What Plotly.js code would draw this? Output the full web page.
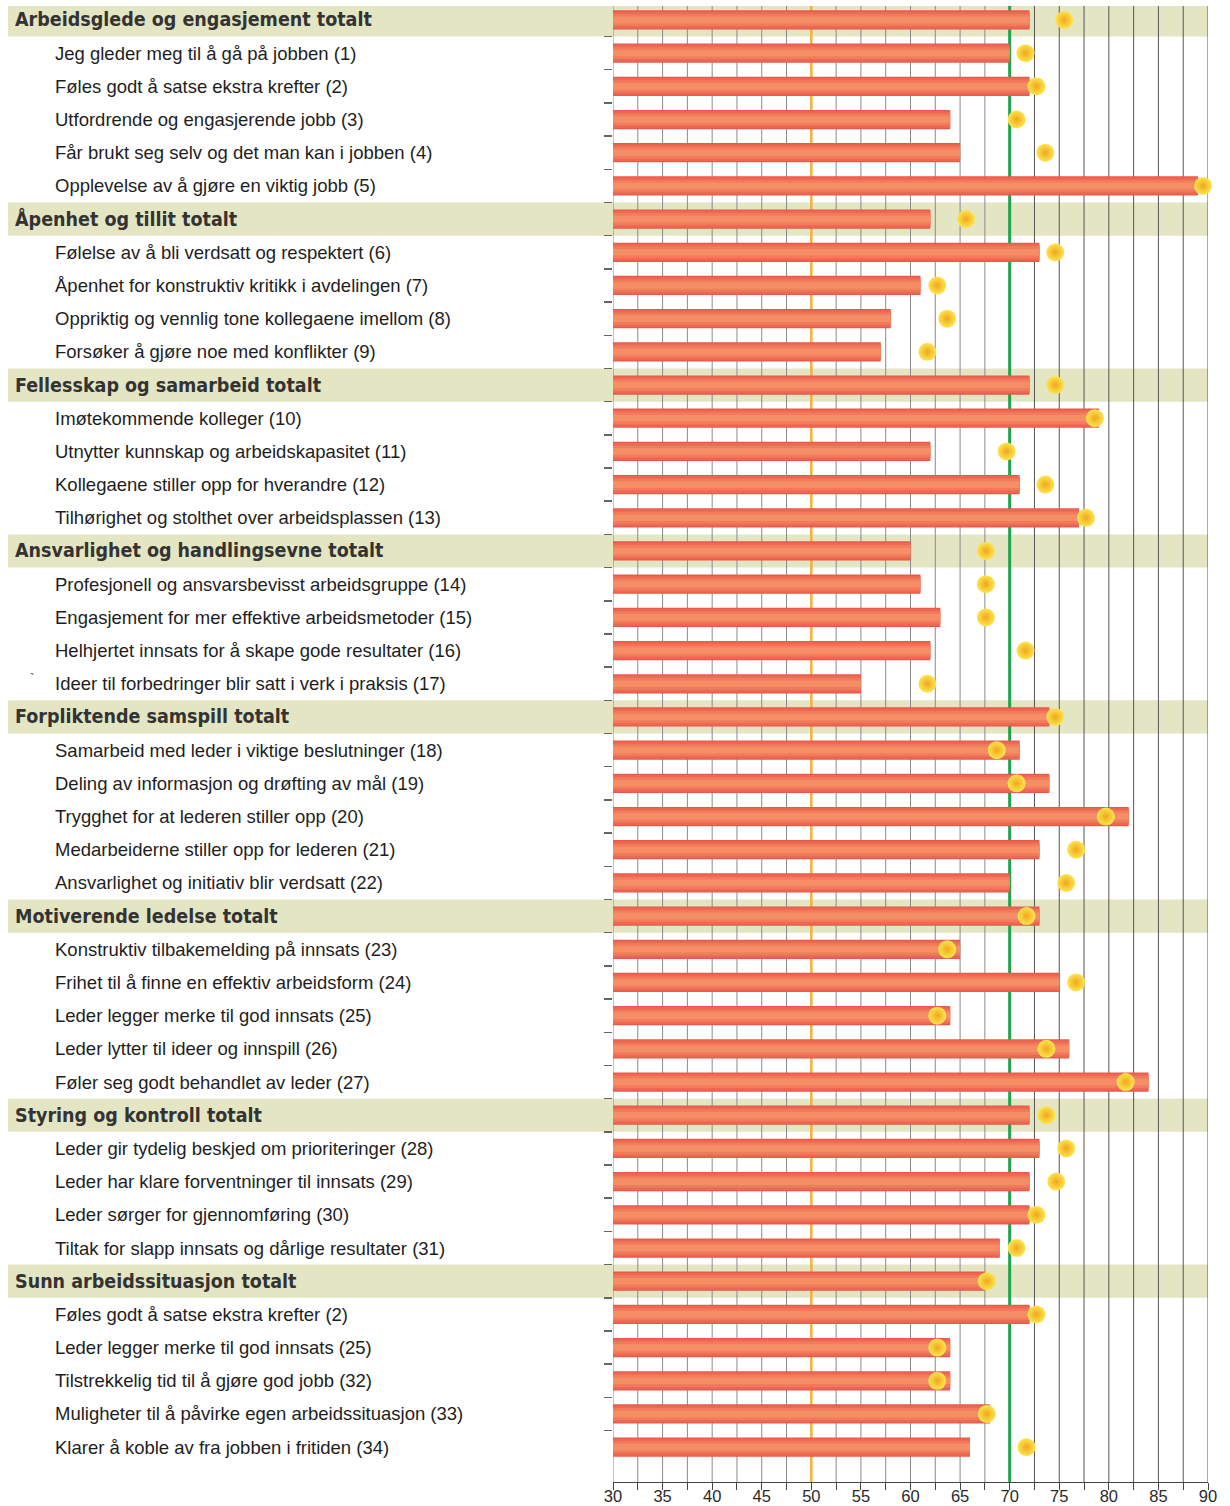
<!DOCTYPE html>
<html>
<head>
<meta charset="utf-8">
<script src="https://cdn.plot.ly/plotly-3.0.1.min.js"></script>
<style>
  html, body { margin: 0; padding: 0; background: #ffffff; }
  #chart { width: 1230px; height: 1506px; }
</style>
</head>
<body>
<div id="chart"></div>
<script>
// Survey items, top to bottom; section totals are flagged in headerRows
const rowLabels = [
  'Arbeidsglede og engasjement totalt',
  'Jeg gleder meg til å gå på jobben (1)',
  'Føles godt å satse ekstra krefter (2)',
  'Utfordrende og engasjerende jobb (3)',
  'Får brukt seg selv og det man kan i jobben (4)',
  'Opplevelse av å gjøre en viktig jobb (5)',
  'Åpenhet og tillit totalt',
  'Følelse av å bli verdsatt og respektert (6)',
  'Åpenhet for konstruktiv kritikk i avdelingen (7)',
  'Oppriktig og vennlig tone kollegaene imellom (8)',
  'Forsøker å gjøre noe med konflikter (9)',
  'Fellesskap og samarbeid totalt',
  'Imøtekommende kolleger (10)',
  'Utnytter kunnskap og arbeidskapasitet (11)',
  'Kollegaene stiller opp for hverandre (12)',
  'Tilhørighet og stolthet over arbeidsplassen (13)',
  'Ansvarlighet og handlingsevne totalt',
  'Profesjonell og ansvarsbevisst arbeidsgruppe (14)',
  'Engasjement for mer effektive arbeidsmetoder (15)',
  'Helhjertet innsats for å skape gode resultater (16)',
  'Ideer til forbedringer blir satt i verk i praksis (17)',
  'Forpliktende samspill totalt',
  'Samarbeid med leder i viktige beslutninger (18)',
  'Deling av informasjon og drøfting av mål (19)',
  'Trygghet for at lederen stiller opp (20)',
  'Medarbeiderne stiller opp for lederen (21)',
  'Ansvarlighet og initiativ blir verdsatt (22)',
  'Motiverende ledelse totalt',
  'Konstruktiv tilbakemelding på innsats (23)',
  'Frihet til å finne en effektiv arbeidsform (24)',
  'Leder legger merke til god innsats (25)',
  'Leder lytter til ideer og innspill (26)',
  'Føler seg godt behandlet av leder (27)',
  'Styring og kontroll totalt',
  'Leder gir tydelig beskjed om prioriteringer (28)',
  'Leder har klare forventninger til innsats (29)',
  'Leder sørger for gjennomføring (30)',
  'Tiltak for slapp innsats og dårlige resultater (31)',
  'Sunn arbeidssituasjon totalt',
  'Føles godt å satse ekstra krefter (2)',
  'Leder legger merke til god innsats (25)',
  'Tilstrekkelig tid til å gjøre god jobb (32)',
  'Muligheter til å påvirke egen arbeidssituasjon (33)',
  'Klarer å koble av fra jobben i fritiden (34)'
];

const headerRows = [0, 6, 11, 16, 21, 27, 33, 38];

// Department score (bars)
const scores = [
  72, 70, 72, 64, 65, 89,
  62, 73, 61, 58, 57,
  72, 79, 62, 71, 77,
  60, 61, 63, 62, 55,
  74, 71, 74, 82, 73, 70,
  73, 65, 75, 64, 76, 84,
  72, 73, 72, 72, 69,
  67.5, 72, 64, 64, 68, 66
];

// Reference score (dots)
const benchmarks = [
  75.5, 71.6, 72.7, 70.7, 73.6, 89.5,
  65.6, 74.6, 62.7, 63.7, 61.7,
  74.6, 78.6, 69.7, 73.6, 77.7,
  67.6, 67.6, 67.6, 71.6, 61.7,
  74.6, 68.7, 70.7, 79.7, 76.7, 75.7,
  71.7, 63.7, 76.7, 62.7, 73.7, 81.7,
  73.7, 75.7, 74.7, 72.7, 70.7,
  67.7, 72.7, 62.7, 62.7, 67.7, 71.7
];

const tickValues = [30, 32.5, 35, 37.5, 40, 42.5, 45, 47.5, 50, 52.5, 55, 57.5, 60,
                    62.5, 65, 67.5, 70, 72.5, 75, 77.5, 80, 82.5, 85, 87.5, 90];
const tickLabels = ['30', '', '35', '', '40', '', '45', '', '50', '', '55', '', '60',
                    '', '65', '', '70', '', '75', '', '80', '', '85', '', '90'];

const referenceLine = 50;
const targetLine = 70;

const W = 1230, H = 1506;
const plotLeft = 613, plotRight = 1208, plotTop = 6, plotBottom = 1482;
const yRange = [44.05, -0.42];

const rowIdx = rowLabels.map((_, i) => i);
const isHeader = i => headerRows.indexOf(i) >= 0;

// Layered bars give the rounded, tube-like shading
const barLayer = (width, color) => ({
  type: 'bar', orientation: 'h',
  x: scores, y: rowIdx, width: width,
  marker: { color: color, line: { width: 0 } },
  hoverinfo: 'skip', showlegend: false
});

const traces = [
  barLayer(0.58, '#e9594a'),
  barLayer(0.5, '#ee6953'),
  barLayer(0.36, '#f27b5c'),
  barLayer(0.2, '#f58e65'),
  {
    type: 'scatter', mode: 'markers',
    x: benchmarks, y: rowIdx,
    cliponaxis: false,
    marker: {
      size: 18,
      color: '#fde54e',
      gradient: { type: 'radial', color: '#f1a71c' },
      line: { width: 0 }
    },
    hoverinfo: 'skip', showlegend: false
  }
];

const shapes = [];
// Section bands run across the label column and the plot
headerRows.forEach(i => {
  shapes.push({
    type: 'rect', layer: 'below',
    xref: 'paper', yref: 'y',
    x0: 8 / W, x1: plotRight / W,
    y0: i - 0.5, y1: i + 0.5,
    fillcolor: '#e3e5c3', line: { width: 0 }
  });
});
// Vertical grid every 2.5 points
tickValues.forEach(v => {
  shapes.push({
    type: 'line', layer: 'below',
    xref: 'x', yref: 'y',
    x0: v, x1: v, y0: yRange[0], y1: yRange[1],
    line: { color: v > targetLine ? '#555555' : '#8a8a8a', width: 1 }
  });
});
shapes.push({
  type: 'line', layer: 'below',
  xref: 'x', yref: 'y',
  x0: referenceLine, x1: referenceLine, y0: yRange[0], y1: yRange[1],
  line: { color: '#f4b23c', width: 2.5 }
});
shapes.push({
  type: 'line', layer: 'below',
  xref: 'x', yref: 'y',
  x0: targetLine, x1: targetLine, y0: yRange[0], y1: yRange[1],
  line: { color: '#20a34b', width: 3 }
});

const annotations = rowLabels.map((txt, i) => {
  const head = isHeader(i);
  return {
    xref: 'paper', yref: 'y',
    x: (head ? 13 : 53) / W, y: i,
    xanchor: 'left', yanchor: 'middle',
    text: txt, showarrow: false,
    font: head
      ? { family: 'DejaVu Sans Condensed, Liberation Sans Narrow, sans-serif', size: 19.5, weight: 'bold', color: '#333333' }
      : { family: 'Liberation Sans, Arial, sans-serif', size: 18.5, color: '#1e1e1e' }
  };
});
annotations.push({
  xref: 'paper', yref: 'y',
  x: 28 / W, y: 19.85,
  xanchor: 'left', yanchor: 'middle',
  text: '`', showarrow: false,
  font: { family: 'Liberation Sans, sans-serif', size: 14, color: '#444444' }
});

const layout = {
  width: W, height: H, autosize: false,
  margin: { l: 0, r: 0, t: 0, b: 0, pad: 0 },
  paper_bgcolor: '#ffffff',
  plot_bgcolor: 'rgba(0,0,0,0)',
  barmode: 'overlay',
  showlegend: false,
  hovermode: false,
  xaxis: {
    domain: [plotLeft / W, plotRight / W],
    range: [30, 90],
    tickmode: 'array',
    tickvals: tickValues,
    ticktext: tickLabels,
    showgrid: false,
    zeroline: false,
    showline: true,
    linecolor: '#444444',
    linewidth: 1,
    ticks: 'outside',
    ticklen: 7,
    tickwidth: 1,
    tickcolor: '#444444',
    ticklabelstandoff: -8,
    tickfont: { family: 'Liberation Sans, Arial, sans-serif', size: 16.5, color: '#2a2a2a' },
    fixedrange: true
  },
  yaxis: {
    domain: [(H - plotBottom) / H, (H - plotTop) / H],
    range: yRange,
    tickmode: 'array',
    tickvals: rowIdx.slice(1).map(i => i - 0.5),
    showticklabels: false,
    ticks: 'outside',
    ticklen: 8,
    tickwidth: 1.5,
    tickcolor: '#666666',
    showgrid: false,
    zeroline: false,
    showline: false,
    fixedrange: true
  },
  shapes: shapes,
  annotations: annotations
};

Plotly.newPlot('chart', traces, layout, { displayModeBar: false, staticPlot: true });
</script>
</body>
</html>
